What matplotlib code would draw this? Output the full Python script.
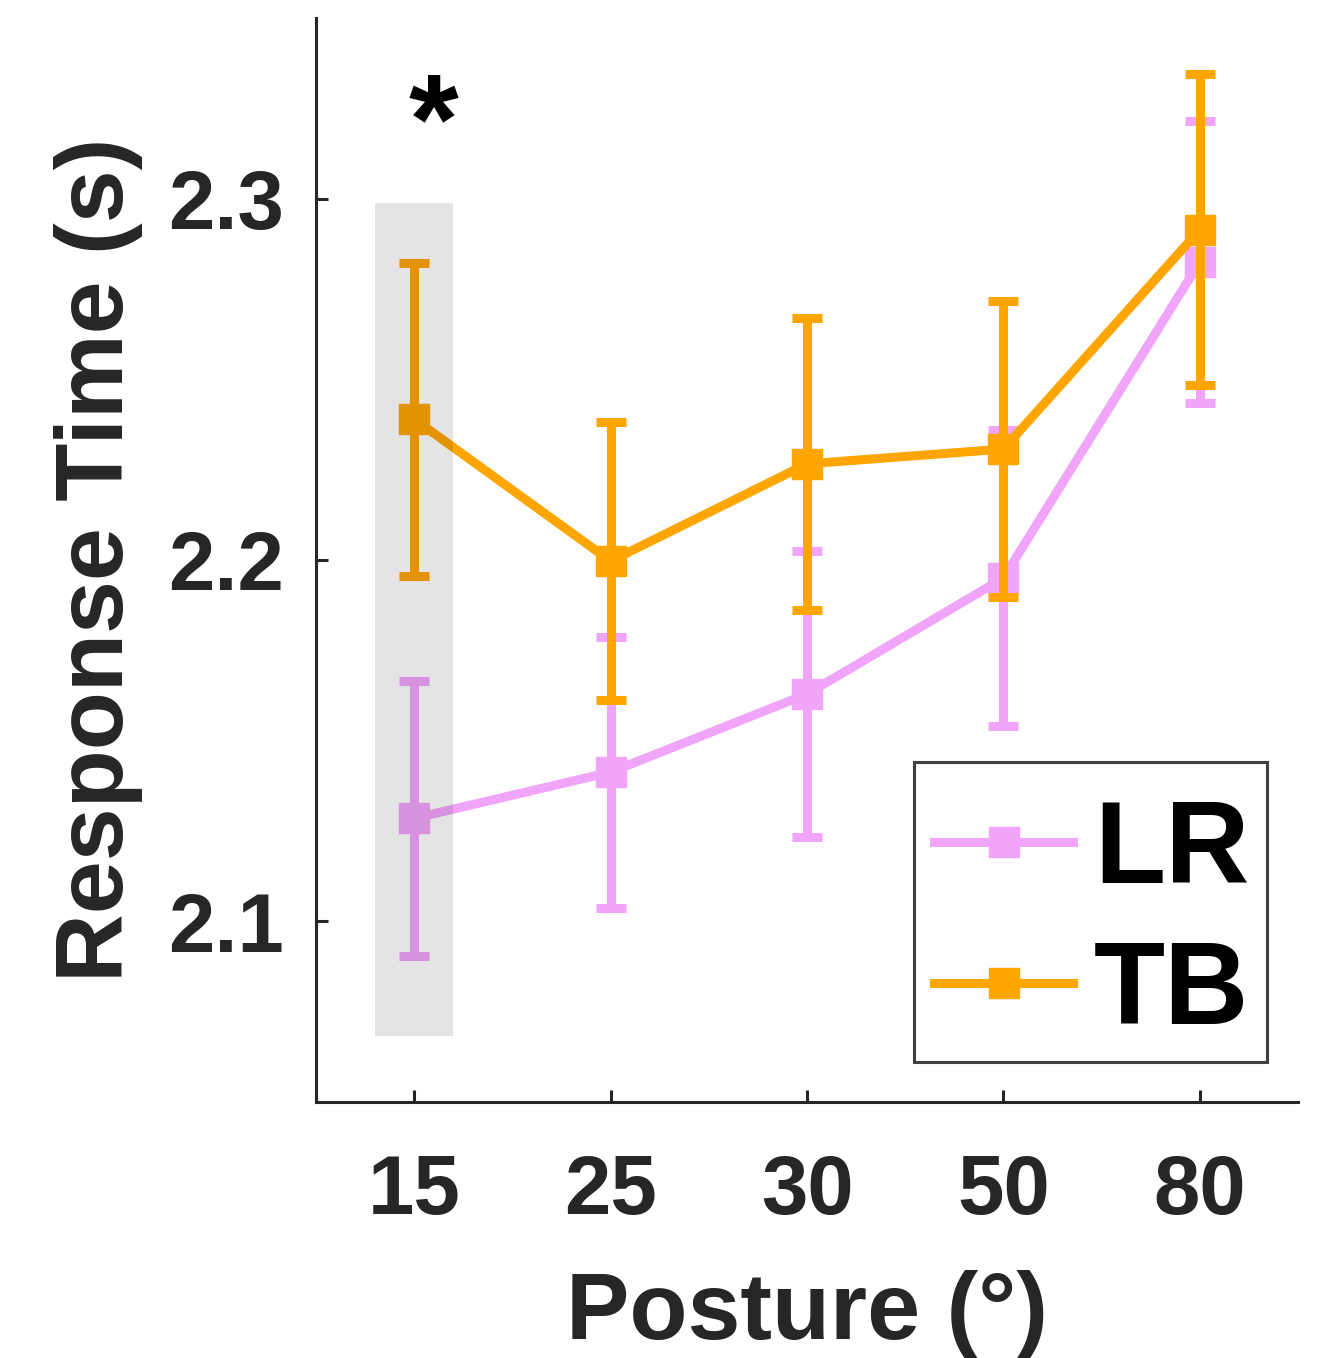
import matplotlib

matplotlib.use("Agg")

import matplotlib.pyplot as plt
from matplotlib.lines import Line2D
from matplotlib.patches import Rectangle

postures = ["15", "25", "30", "50", "80"]
lr_mean = [2.1285, 2.1413, 2.1629, 2.1950, 2.2825]
lr_err = [0.038, 0.0375, 0.0395, 0.041, 0.039]
tb_mean = [2.2390, 2.1997, 2.2266, 2.2307, 2.2914]
tb_err = [0.0433, 0.0385, 0.0405, 0.041, 0.043]
series_names = ["LR", "TB"]

PINK = "#f0a4fa"
ORANGE = "#ffa500"
DARK = "#262626"
W, H = 1323, 1358

plt.rcParams["font.family"] = ["Liberation Sans", "DejaVu Sans"]
plt.rcParams["font.weight"] = "bold"

fig = plt.figure(figsize=(W / 100, H / 100), dpi=100)
ax = fig.add_axes([316 / W, 1 - 1102 / H, (1298 - 316) / W, (1102 - 18) / H])

x = list(range(1, len(postures) + 1))
style = dict(lw=6.5, marker="s", ms=21, capsize=10.5, capthick=6.5, elinewidth=6.5)
ax.errorbar(x, lr_mean, yerr=lr_err, color=PINK, zorder=2, **style)
ax.errorbar(x, tb_mean, yerr=tb_err, color=ORANGE, zorder=2.5, **style)

ax.set_xlim(0.5, 5.5)
ax.set_ylim(2.05, 2.35)

# shaded significant posture
ax.add_patch(Rectangle((0.8, 2.0684), 0.4, 2.2989 - 2.0684, facecolor="black", alpha=0.107,
                       edgecolor="none", zorder=4))
ax.text(1.1, 2.3193, "*", ha="center", va="center", fontsize=92, fontweight="bold", color="black")

ax.set_xticks(x, labels=postures)
ax.set_yticks([2.1, 2.2, 2.3], labels=["2.1", "2.2", "2.3"])
for s in ["top", "right"]:
    ax.spines[s].set_visible(False)
for s in ["left", "bottom"]:
    ax.spines[s].set_linewidth(2.2)
    ax.spines[s].set_color(DARK)
ax.tick_params(direction="in", length=8.5, width=2.2, color=DARK, labelcolor=DARK, labelsize=60)
ax.tick_params(axis="y", pad=23)
ax.tick_params(axis="x", pad=37)
ax.set_xlabel("Posture (°)", fontsize=68.5, fontweight="bold", color=DARK, labelpad=28)
ax.set_ylabel("Response Time (s)", fontsize=68.5, fontweight="bold", color=DARK, labelpad=18)

# legend box drawn separately so the entries sit like the MATLAB legend
box = Rectangle((914 / W, 1 - 1062 / H), (1267 - 914) / W, (1062 - 762) / H,
                transform=fig.transFigure, facecolor="white", edgecolor="#404040",
                linewidth=2.2, zorder=5, clip_on=False)
ax.add_artist(box)
handles = [Line2D([], [], color=PINK, lw=6.5, marker="s", ms=21),
           Line2D([], [], color=ORANGE, lw=6.5, marker="s", ms=21)]
leg = ax.legend(handles, series_names, loc="center", bbox_to_anchor=(1092 / W, 1 - 923 / H),
                bbox_transform=fig.transFigure, fontsize=84, frameon=False,
                handlelength=1.19, handletextpad=0.18, labelspacing=0.27, borderpad=0,
                borderaxespad=0)
leg.set_zorder(6)
for t in leg.get_texts():
    t.set_fontweight("bold")

fig.savefig("out.png", dpi=100)
